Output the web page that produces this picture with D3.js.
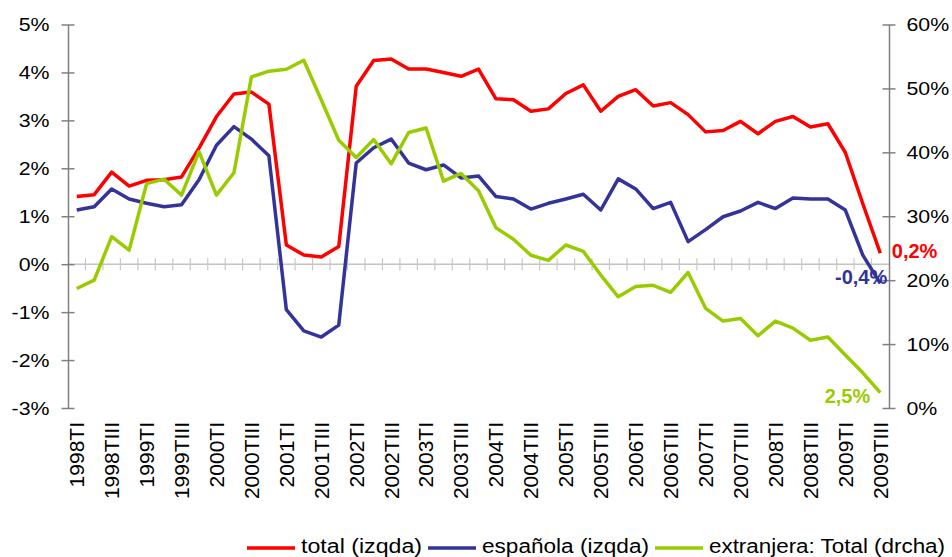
<!DOCTYPE html>
<html>
<head>
<meta charset="utf-8">
<script src="https://cdn.jsdelivr.net/npm/d3@7"></script>
<style>
  body { margin: 0; background: #fff; }
  svg { display: block; font-family: "Liberation Sans", Arial, sans-serif; }
</style>
</head>
<body>
<svg id="chart" width="952" height="557"></svg>
<script>
// Data
const quarters = [
  "1998TI","1998TII","1998TIII","1998TIV","1999TI","1999TII","1999TIII","1999TIV",
  "2000TI","2000TII","2000TIII","2000TIV","2001TI","2001TII","2001TIII","2001TIV",
  "2002TI","2002TII","2002TIII","2002TIV","2003TI","2003TII","2003TIII","2003TIV",
  "2004TI","2004TII","2004TIII","2004TIV","2005TI","2005TII","2005TIII","2005TIV",
  "2006TI","2006TII","2006TIII","2006TIV","2007TI","2007TII","2007TIII","2007TIV",
  "2008TI","2008TII","2008TIII","2008TIV","2009TI","2009TII","2009TIII"
];
const tickLabels = quarters.filter((q, i) => i % 2 === 0);

const total = [1.41,1.45,1.92,1.63,1.75,1.76,1.82,2.42,3.08,3.55,3.59,3.34,0.40,0.19,0.15,0.37,
  3.71,4.25,4.28,4.07,4.07,4.00,3.92,4.07,3.45,3.43,3.19,3.24,3.56,3.74,3.19,3.50,
  3.64,3.30,3.37,3.12,2.76,2.79,2.98,2.72,2.98,3.08,2.86,2.93,2.33,1.26,0.23];
const espanola = [1.13,1.20,1.57,1.36,1.27,1.20,1.24,1.76,2.48,2.87,2.61,2.26,-0.95,-1.39,-1.52,-1.27,
  2.11,2.43,2.61,2.11,1.97,2.07,1.80,1.84,1.41,1.36,1.15,1.27,1.36,1.46,1.13,1.78,
  1.57,1.16,1.29,0.47,0.72,0.99,1.11,1.29,1.16,1.38,1.36,1.36,1.13,0.19,-0.40];
const extranjera = [18.7,20.0,26.8,24.7,35.1,35.8,33.3,40.1,33.3,36.8,51.8,52.7,53.0,54.4,48.2,41.9,
  39.2,42.0,38.2,43.1,43.8,35.5,36.7,34.0,28.2,26.4,23.9,23.1,25.5,24.5,20.8,17.4,
  19.0,19.2,18.1,21.2,15.6,13.6,14.0,11.3,13.6,12.5,10.6,11.1,8.3,5.5,2.4];

const leftTicks = [-3, -2, -1, 0, 1, 2, 3, 4, 5];
const rightTicks = [0, 10, 20, 30, 40, 50, 60];
const endLabels = ["0,2%", "-0,4%", "2,5%"];

const series = [
  { name: "total (izqda)", values: total, color: "#ff0000", side: "left" },
  { name: "española (izqda)", values: espanola, color: "#333399", side: "left" },
  { name: "extranjera: Total (drcha)", values: extranjera, color: "#99cc00", side: "right" }
];

// Scales
const svg = d3.select("#chart");
const plotL = 68, plotR = 889, plotT = 24.5, plotB = 408;
const x = d3.scaleBand().domain(quarters).range([plotL, plotR]);
const yL = d3.scaleLinear().domain([-3, 5]).range([plotB, plotT]);
const yR = d3.scaleLinear().domain([0, 60]).range([plotB, plotT]);
const cx = q => x(q) + x.bandwidth() / 2;
const yOf = s => s.side === "left" ? yL : yR;

// zero line with category ticks
svg.append("line")
  .attr("x1", plotL).attr("x2", plotR)
  .attr("y1", yL(0)).attr("y2", yL(0))
  .attr("stroke", "#c4c4c4").attr("stroke-width", 1.5);
svg.append("g").selectAll("line")
  .data(quarters.slice(1))
  .join("line")
  .attr("x1", d => x(d)).attr("x2", d => x(d))
  .attr("y1", yL(0) - 6).attr("y2", yL(0) + 6)
  .attr("stroke", "#c8c8c8").attr("stroke-width", 1.2);

// Axes
const styleAxis = (g, dx, anchor) => {
  g.select(".domain").attr("stroke", "#808080").attr("stroke-width", 1.5);
  g.selectAll(".tick line").attr("x1", -6.5).attr("x2", 6.5)
    .attr("stroke", "#808080").attr("stroke-width", 1.5);
  g.selectAll(".tick text")
    .attr("x", null).attr("dy", "0.35em")
    .attr("text-anchor", anchor)
    .attr("fill", "#000")
    .attr("font-size", 17.5)
    .attr("font-family", "Liberation Sans, Arial, sans-serif")
    .attr("transform", `translate(${dx},0) scale(1.22,1)`);
};

svg.append("g")
  .attr("transform", `translate(${plotL},0)`)
  .call(d3.axisLeft(yL).tickValues(leftTicks).tickSizeOuter(0).tickFormat(d => d + "%"))
  .call(g => styleAxis(g, -18.5, "end"));

svg.append("g")
  .attr("transform", `translate(${plotR},0)`)
  .call(d3.axisRight(yR).tickValues(rightTicks).tickSizeOuter(0).tickFormat(d => d + "%"))
  .call(g => styleAxis(g, 17.5, "start"));

// x labels
svg.append("g").selectAll("text")
  .data(tickLabels)
  .join("text")
  .attr("transform", d => `translate(${cx(d)},422) rotate(-90)`)
  .attr("text-anchor", "end")
  .attr("dy", "0.35em")
  .attr("font-size", 21)
  .attr("fill", "#000")
  .text(d => d);

// Lines
series.forEach(s => {
  const line = d3.line()
    .x((d, i) => cx(quarters[i]))
    .y(d => yOf(s)(d));
  svg.append("path")
    .datum(s.values)
    .attr("d", line)
    .attr("fill", "none")
    .attr("stroke", s.color)
    .attr("stroke-width", 3.5)
    .attr("stroke-linejoin", "round");
});

// End labels
const lastQ = quarters[quarters.length - 1];
const lastX = cx(lastQ);
const labelPos = [
  { dx: 11.5, dy: 5, anchor: "start" },
  { dx: 7, dy: 1, anchor: "end" },
  { dx: -10, dy: 10.6, anchor: "end" }
];
series.forEach((s, i) => {
  const v = s.values[s.values.length - 1];
  svg.append("text")
    .attr("x", lastX + labelPos[i].dx)
    .attr("y", yOf(s)(v) + labelPos[i].dy)
    .attr("text-anchor", labelPos[i].anchor)
    .attr("font-size", 20)
    .attr("font-weight", "bold")
    .attr("fill", s.color)
    .text(endLabels[i]);
});

const legend = svg.append("g");
const legendX = [247, 428, 655];
const ly = 548;
series.forEach((s, i) => {
  const lx = legendX[i];
  legend.append("line")
    .attr("x1", lx).attr("x2", lx + 48)
    .attr("y1", ly).attr("y2", ly)
    .attr("stroke", s.color).attr("stroke-width", 3.5);
  const t = legend.append("text")
    .attr("x", lx + 54)
    .attr("y", 552.7)
    .attr("font-size", 19.5)
    .attr("fill", "#000")
    .text(s.name);
  const next = i < series.length - 1 ? legendX[i + 1] - 6 : 945;
  t.attr("textLength", next - (lx + 54)).attr("lengthAdjust", "spacingAndGlyphs");
});
</script>
</body>
</html>
